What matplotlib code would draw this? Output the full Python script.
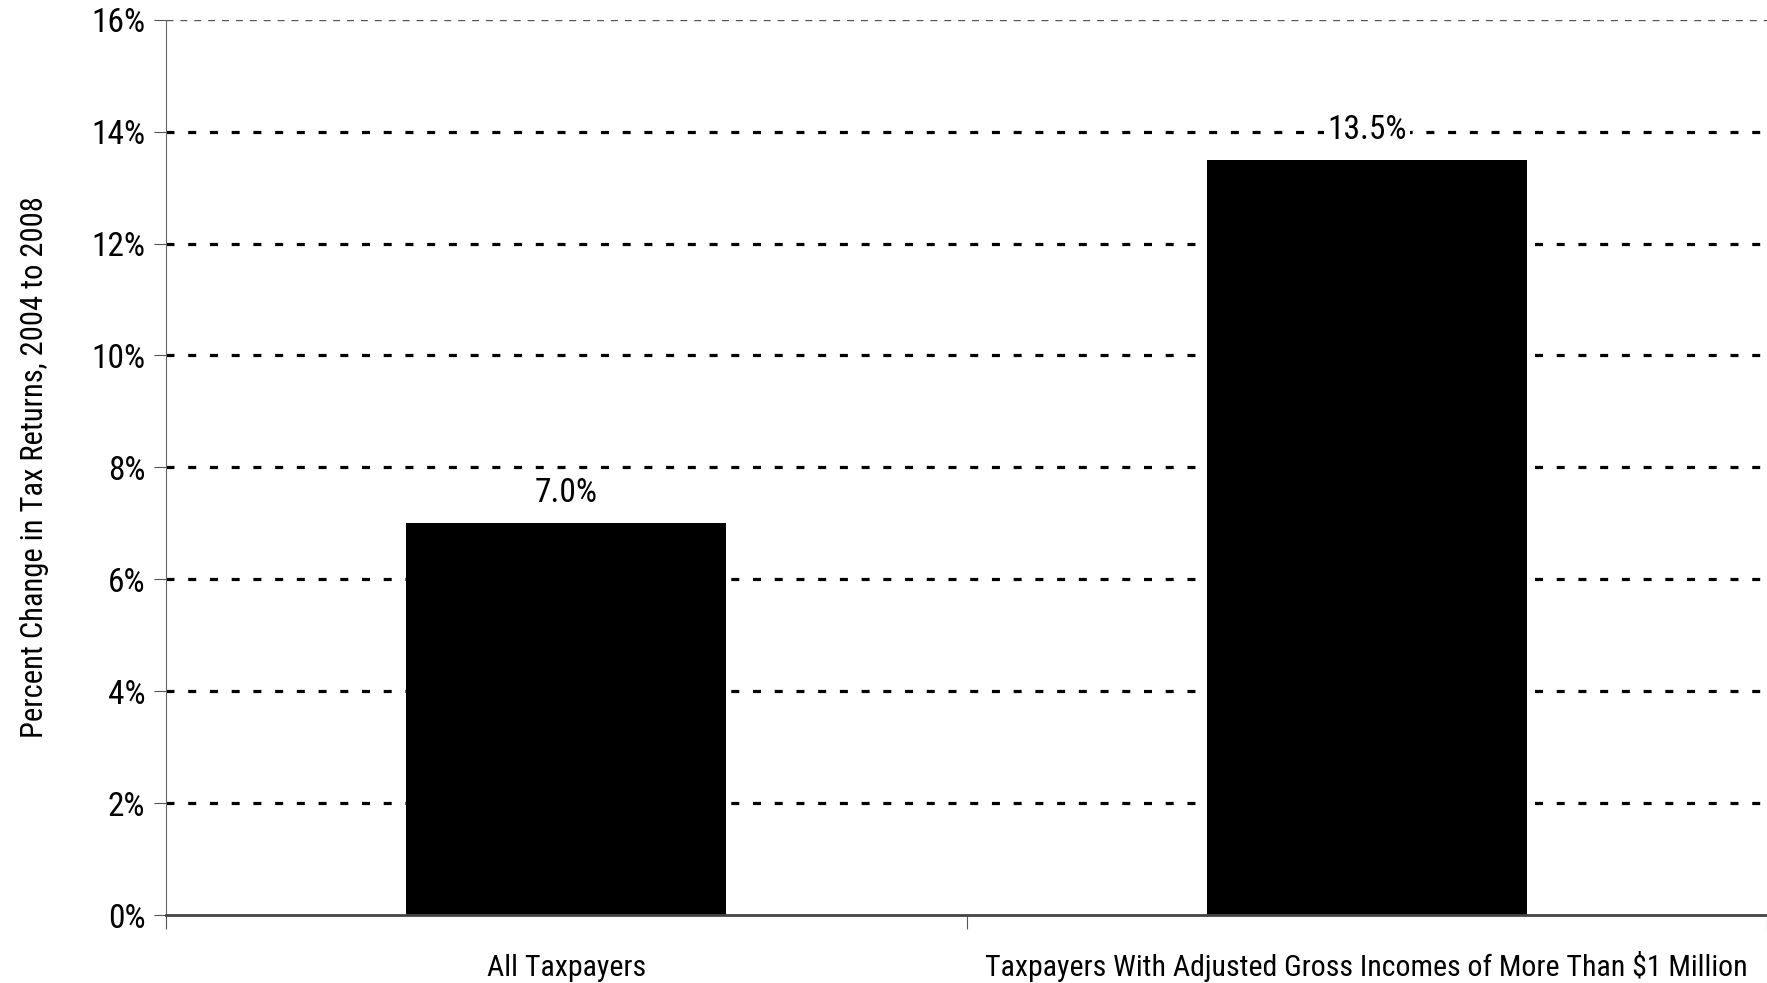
import matplotlib
matplotlib.use("Agg")
import matplotlib.pyplot as plt
from matplotlib import font_manager

categories = ["All Taxpayers", "Taxpayers With Adjusted Gross Incomes of More Than $1 Million"]
values = [7.0, 13.5]
value_labels = ["7.0%", "13.5%"]
yticks = [0, 2, 4, 6, 8, 10, 12, 14, 16]
ytick_labels = ["0%", "2%", "4%", "6%", "8%", "10%", "12%", "14%", "16%"]
ylabel = "Percent Change in Tax Returns, 2004 to 2008"

names = {f.name for f in font_manager.fontManager.ttflist}
fam = "DejaVu Sans"
for cand in ["Liberation Sans Narrow", "Roboto Condensed", "Archivo Narrow",
             "IBM Plex Sans Condensed", "Open Sans Condensed"]:
    if cand in names:
        fam = cand
        break
plt.rcParams["font.family"] = [fam, "DejaVu Sans"]

fig = plt.figure(figsize=(17.67, 9.83), dpi=100)
ax = fig.add_axes([0.094, 0.069, 0.906, 0.911])

centers = [i + 0.5 for i in range(len(categories))]
ax.bar(centers, values, width=0.4, color="black", zorder=3)

ax.set_xlim(0, len(categories))
ax.set_ylim(0, 16)

for y in yticks[1:]:
    if y == 16:
        ax.axhline(y, color="#555555", lw=1.0, linestyle=(0, (5, 5)), zorder=1)
    else:
        ax.axhline(y, color="black", lw=2.3, linestyle=(0, (2.5, 4.3)), zorder=1)

for c, v, lab in zip(centers, values, value_labels):
    ax.annotate(lab, (c, v), xytext=(0, 30), textcoords="offset pixels",
                ha="center", va="center", fontsize=24,
                bbox=dict(boxstyle="square,pad=0.1", fc="white", ec="none"), zorder=4)

ax.set_yticks(yticks)
ax.set_yticklabels(ytick_labels, fontsize=24)
ax.set_xticks(range(len(categories) + 1))
ax.set_xticklabels([])
ax.set_xticks(centers, minor=True)
ax.set_xticklabels(categories, minor=True, fontsize=21.5, va="baseline")
ax.tick_params(axis="x", which="minor", length=0, pad=44)
ax.tick_params(axis="x", which="major", length=10, direction="out", color="#555555")
ax.tick_params(axis="y", length=9, direction="out", color="#555555", pad=6)

ax.set_ylabel(ylabel, fontsize=22, labelpad=30)

for s in ["top", "right"]:
    ax.spines[s].set_visible(False)
ax.spines["left"].set_color("#666666")
ax.spines["bottom"].set_color("#444444")
ax.spines["bottom"].set_linewidth(2)
ax.spines["bottom"].set_zorder(5)

fig.savefig("out.png", dpi=100)
